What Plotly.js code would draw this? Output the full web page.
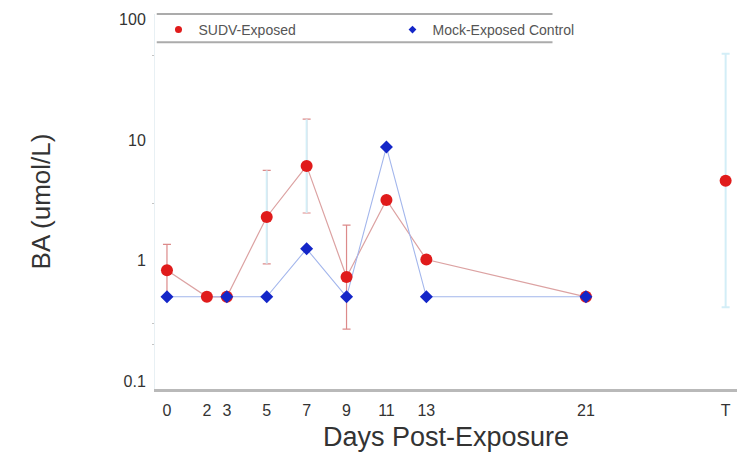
<!DOCTYPE html>
<html>
<head>
<meta charset="utf-8">
<script src="https://cdn.plot.ly/plotly-3.0.1.min.js"></script>
<style>
  html, body { margin: 0; padding: 0; background: #ffffff; }
  #chart { width: 747px; height: 472px; }
</style>
</head>
<body>
<div id="chart"></div>
<script>
// Sampling days (T = terminal timepoint, plotted at day 28)
const days = [0, 2, 3, 5, 7, 9, 11, 13, 21, 28];
const dayLabels = ['0', '2', '3', '5', '7', '9', '11', '13', '21', 'T'];

// SUDV-exposed group: bile acid (umol/L) and the bounds of its range
const sudvMean = [0.83, 0.5, 0.5, 2.3, 6.1, 0.73, 3.18, 1.02, 0.5, 4.6];
const sudvHigh = [1.36, null, null, 5.6, 14.9, 1.97, null, null, null, 52];
const sudvLow  = [0.5, null, null, 0.94, 2.48, 0.27, null, null, null, 0.41];

// The time-course line runs through day 21; T stands on its own
const sudvLineCount = 9;

// Which bounds are drawn in which tone
const redBarIdx = [0, 3, 4, 5];
const cyanStemIdx = [3, 4];
const cyanCapIdx = [9];

// Mock-exposed control group
const mockDays = [0, 3, 5, 7, 9, 11, 13, 21];
const mockMean = [0.5, 0.5, 0.5, 1.25, 0.5, 8.75, 0.5, 0.5];

// Y axis labels and small ticks
const yTickVals = [0.1, 1, 10, 100];
const yTickText = ['0.1', '1', '10', '100'];
const yMinorVals = [0.2, 0.3, 3, 50];

const FONT = '"Liberation Sans", Arial, Helvetica, sans-serif';
const RED = '#e01b1b';
const BLUE = '#1426c8';

function rangeBars(idx, color, capWidth, thickness) {
  return {
    type: 'scatter',
    mode: 'markers',
    x: idx.map(i => days[i]),
    y: idx.map(i => sudvMean[i]),
    marker: { size: 1, opacity: 0 },
    error_y: {
      type: 'data',
      symmetric: false,
      array: idx.map(i => sudvHigh[i] - sudvMean[i]),
      arrayminus: idx.map(i => sudvMean[i] - sudvLow[i]),
      color: color,
      thickness: thickness,
      width: capWidth
    },
    showlegend: false,
    hoverinfo: 'skip'
  };
}

const traces = [
  rangeBars(redBarIdx, 'rgba(214,118,118,0.85)', 4, 1.2),
  rangeBars(cyanStemIdx, '#d3eef7', 0, 2),
  rangeBars(cyanCapIdx, '#d3eef7', 4, 2),
  {
    type: 'scatter', mode: 'lines',
    x: days.slice(0, sudvLineCount), y: sudvMean.slice(0, sudvLineCount),
    line: { color: '#dca2a2', width: 1.2 },
    showlegend: false, hoverinfo: 'skip'
  },
  {
    type: 'scatter', mode: 'lines',
    x: mockDays, y: mockMean,
    line: { color: '#a3b6ec', width: 1.1 },
    showlegend: false, hoverinfo: 'skip'
  },
  {
    type: 'scatter', mode: 'markers',
    x: days, y: sudvMean,
    marker: { symbol: 'circle', size: 12, color: RED },
    showlegend: false
  },
  {
    type: 'scatter', mode: 'markers',
    x: mockDays, y: mockMean,
    marker: { symbol: 'diamond', size: 10, color: BLUE },
    showlegend: false
  },
  // legend entries
  {
    type: 'scatter', mode: 'markers', name: 'SUDV-Exposed',
    x: [null], y: [null],
    marker: { symbol: 'circle', size: 7, color: RED }
  },
  {
    type: 'scatter', mode: 'markers', name: 'Mock-Exposed Control',
    x: [null], y: [null],
    marker: { symbol: 'diamond', size: 6, color: BLUE }
  }
];

const layout = {
  width: 747,
  height: 472,
  margin: { l: 155, r: 10, t: 14, b: 83 },
  paper_bgcolor: '#ffffff',
  plot_bgcolor: '#ffffff',
  font: { family: FONT, color: '#333333' },
  showlegend: true,
  legend: {
    orientation: 'h',
    x: 0.006, xanchor: 'left',
    y: 1, yanchor: 'top',
    entrywidth: 189, entrywidthmode: 'pixels',
    font: { family: FONT, size: 14, color: '#555555' },
    bgcolor: 'rgba(0,0,0,0)',
    borderwidth: 0
  },
  xaxis: {
    range: [-0.6, 28.57],
    tickvals: days,
    ticktext: dayLabels,
    tickfont: { family: FONT, size: 16, color: '#333333' },
    ticks: 'outside', ticklen: 5, tickcolor: 'rgba(0,0,0,0)',
    showgrid: false, zeroline: false,
    showline: true, linecolor: '#b9b9b9', linewidth: 3,
    title: { text: 'Days Post-Exposure', font: { family: FONT, size: 27, color: '#333333' }, standoff: 9 }
  },
  yaxis: {
    type: 'log',
    range: [-1.066, 2.046],
    tickvals: yTickVals,
    ticktext: yTickText,
    tickfont: { family: FONT, size: 16, color: '#333333' },
    ticks: 'outside', ticklen: 5, tickcolor: 'rgba(0,0,0,0)',
    minor: { tickvals: yMinorVals, ticks: 'outside', ticklen: 2, tickcolor: '#c4c4c4', tickwidth: 1 },
    showgrid: false, zeroline: false,
    showline: true, linecolor: '#e8f0f4', linewidth: 1,
    title: { text: 'BA (umol/L)', font: { family: FONT, size: 26, color: '#333333' }, standoff: 60 }
  },
  shapes: [
    { type: 'line', xref: 'paper', yref: 'paper', x0: 0.003, x1: 0.683, y0: 1, y1: 1,
      line: { color: '#ababab', width: 2 } },
    { type: 'line', xref: 'paper', yref: 'paper', x0: 0.003, x1: 0.683, y0: 0.925, y1: 0.925,
      line: { color: '#ababab', width: 2 } }
  ]
};

Plotly.newPlot('chart', traces, layout, { displayModeBar: false, staticPlot: true });
</script>
</body>
</html>
